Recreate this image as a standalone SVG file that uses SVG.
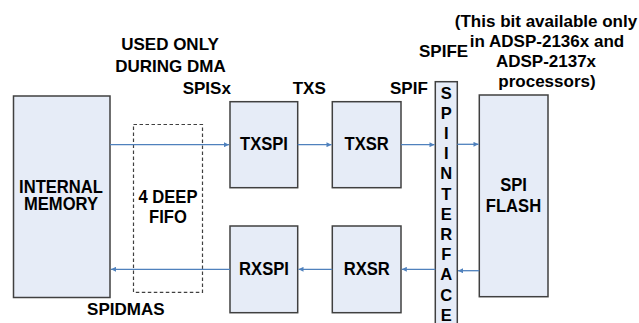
<svg xmlns="http://www.w3.org/2000/svg" width="639" height="323" viewBox="0 0 639 323">
<defs>
<style>
.box{fill:#E6ECF7;stroke:#404040;stroke-width:1.5}
.dash{fill:none;stroke:#404040;stroke-width:1.2;stroke-dasharray:3.5,2.5}
.lbl{font-family:"Liberation Sans",Arial,sans-serif;font-weight:bold;font-size:17px;fill:#000}
.nl{font-family:"Liberation Sans",Arial,sans-serif;font-weight:bold;font-size:16.6px;fill:#000;text-anchor:middle}
.il{font-family:"Liberation Sans",Arial,sans-serif;font-weight:bold;font-size:16.5px;fill:#000;text-anchor:middle}
.c{text-anchor:middle}
.ln{stroke:#4F81BD;stroke-width:1.3;fill:none;marker-end:url(#ah)}
</style>
<marker id="ah" viewBox="0 0 10 10" refX="10" refY="5" markerWidth="6" markerHeight="5" markerUnits="userSpaceOnUse" orient="auto">
<path d="M0,0 L10,5 L0,10 Z" fill="#4F81BD"/>
</marker>
</defs>
<rect width="639" height="323" fill="#fff"/>

<g id="internal-memory">
<rect class="box" x="13.5" y="96" width="96.5" height="201.5"/>
<text class="nl" transform="translate(61,192.8) scale(1,1.1)">INTERNAL</text>
<text class="nl" transform="translate(61,209.6) scale(1,1.1)">MEMORY</text>
</g>

<g id="fifo">
<rect class="dash" x="133.5" y="124.5" width="69" height="167.8"/>
<text class="nl" transform="translate(168,203.3) scale(1,1.1)">4 DEEP</text>
<text class="nl" transform="translate(168,223.3) scale(1,1.1)">FIFO</text>
</g>

<g id="txspi">
<rect class="box" x="230" y="101.7" width="67.7" height="86"/>
<text class="nl" transform="translate(264,150) scale(1,1.12)">TXSPI</text>
</g>

<g id="rxspi">
<rect class="box" x="230" y="226" width="67.7" height="86.7"/>
<text class="nl" transform="translate(264,275) scale(1,1.12)">RXSPI</text>
</g>

<g id="txsr">
<rect class="box" x="332.3" y="101.7" width="68.7" height="86"/>
<text class="nl" transform="translate(366.7,150) scale(1,1.12)">TXSR</text>
</g>

<g id="rxsr">
<rect class="box" x="332.3" y="226" width="68.7" height="86.7"/>
<text class="nl" transform="translate(366.7,275) scale(1,1.12)">RXSR</text>
</g>

<g id="spi-interface">
<rect class="box" x="435.3" y="81.7" width="22" height="250"/>
<text class="il" x="446.3" y="98.5">S</text>
<text class="il" x="446.3" y="118.7">P</text>
<text class="il" x="446.3" y="138.9">I</text>
<text class="il" x="446.3" y="159.1">I</text>
<text class="il" x="446.3" y="179.3">N</text>
<text class="il" x="446.3" y="199.5">T</text>
<text class="il" x="446.3" y="219.7">E</text>
<text class="il" x="446.3" y="239.9">R</text>
<text class="il" x="446.3" y="260.1">F</text>
<text class="il" x="446.3" y="280.3">A</text>
<text class="il" x="446.3" y="300.5">C</text>
<text class="il" x="446.3" y="320.7">E</text>
</g>

<g id="spi-flash">
<rect class="box" x="479.3" y="95" width="68.7" height="201.7"/>
<text class="nl" transform="translate(513.5,190.7) scale(1,1.1)">SPI</text>
<text class="nl" transform="translate(513.5,211.7) scale(1,1.1)">FLASH</text>
</g>

<g id="connectors">
<line class="ln" x1="110" y1="144.7" x2="229" y2="144.7"/>
<line class="ln" x1="297.7" y1="144.7" x2="331.5" y2="144.7"/>
<line class="ln" x1="401" y1="144.7" x2="434.5" y2="144.7"/>
<line class="ln" x1="457.3" y1="144.3" x2="478.5" y2="144.3"/>
<line class="ln" x1="479.3" y1="270.7" x2="458" y2="270.7"/>
<line class="ln" x1="435.3" y1="269.3" x2="401.8" y2="269.3"/>
<line class="ln" x1="332.3" y1="269.3" x2="298.5" y2="269.3"/>
<line class="ln" x1="230" y1="269.3" x2="111" y2="269.3"/>
</g>

<g id="labels">
<text class="lbl c" x="170" y="50">USED ONLY</text>
<text class="lbl c" x="170.5" y="71.7">DURING DMA</text>
<text class="lbl" x="182.7" y="94">SPISx</text>
<text class="lbl" x="292.7" y="94">TXS</text>
<text class="lbl" x="390" y="94">SPIF</text>
<text class="lbl" x="419" y="56.7">SPIFE</text>
<text class="lbl c" x="546" y="26.7">(This bit available only</text>
<text class="lbl c" x="547" y="46.7">in ADSP-2136x and</text>
<text class="lbl c" x="546" y="66.7">ADSP-2137x</text>
<text class="lbl c" x="547" y="87">processors)</text>
<text class="lbl c" x="125.8" y="315">SPIDMAS</text>
</g>
</svg>
